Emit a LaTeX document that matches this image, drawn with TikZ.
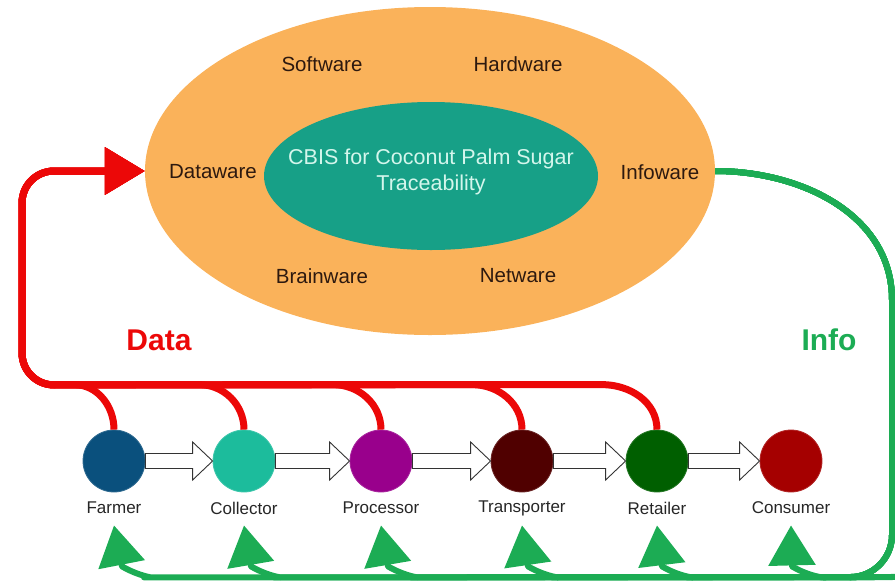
\documentclass[tikz,border=0pt]{standalone}
\usepackage{fontspec}
\setmainfont{Liberation Sans}
\usetikzlibrary{arrows.meta,calc,shapes.geometric}
\definecolor{outerfill}{RGB}{250,178,90}
\definecolor{innerfill}{RGB}{23,160,135}
\definecolor{innertext}{RGB}{212,246,236}
\definecolor{wtext}{RGB}{45,25,15}
\definecolor{datared}{RGB}{236,8,8}
\definecolor{infogreen}{RGB}{28,172,84}
\definecolor{cfarmer}{RGB}{10,80,125}
\definecolor{ccollector}{RGB}{28,188,156}
\definecolor{cprocessor}{RGB}{153,0,140}
\definecolor{ctransporter}{RGB}{80,0,0}
\definecolor{cretailer}{RGB}{0,95,0}
\definecolor{cconsumer}{RGB}{165,0,0}
\newcommand\mkblockarrow[2]{%
  \draw[blockar] let \p1=(#1.east), \p2=(#2.west) in
    (\x1,\y1+7.5pt) -- (\x2-20pt,\y1+7.5pt) -- (\x2-20pt,\y1+19pt) -- (\x2,\y1)
    -- (\x2-20pt,\y1-19pt) -- (\x2-20pt,\y1-7.5pt) -- (\x1,\y1-7.5pt) -- cycle;}
\begin{document}
\begin{tikzpicture}[x=1pt,y=1pt,
  ware/.style={text=wtext,font=\fontsize{20.5}{24}\selectfont},
  actor/.style={circle,minimum size=62pt,inner sep=0pt,draw=#1!85!white,line width=0.8pt,fill=#1},
  actorlabel/.style={text=black!85,font=\fontsize{17}{20}\selectfont},
  dataline/.style={draw=datared,line width=7pt,line join=round},
  infoline/.style={draw=infogreen,line width=6pt,line join=round},
  blockar/.style={draw=black!80,fill=white,line width=0.9pt,line join=miter},
  bigword/.style={font=\fontsize{30}{34}\selectfont\bfseries}
]
\useasboundingbox (0,0) rectangle (895,-582);
% ellipses
\node[ellipse,fill=outerfill,minimum width=570pt,minimum height=328pt,inner sep=0pt] (outer) at (430,-171) {};
\node[ellipse,fill=innerfill,minimum width=334pt,minimum height=148pt,inner sep=0pt] (inner) at (431,-176) {};
\node[text=innertext,font=\fontsize{21.5}{26}\selectfont,align=center] (cbis) at (431,-172) {CBIS for Coconut Palm Sugar\\Traceability};
\node[ware] (sw) at (322,-64) {Software};
\node[ware] (hw) at (518,-64) {Hardware};
\node[ware] (dw) at (213,-172) {Dataware};
\node[ware] (iw) at (660,-172) {Infoware};
\node[ware] (bw) at (322,-276) {Brainware};
\node[ware] (nw) at (518,-276) {Netware};
% words
\node[bigword,text=datared] (data) at (159,-340) {Data};
\node[bigword,text=infogreen] (info) at (829,-340) {Info};
% actors
\node[actor=cfarmer] (f) at (114,-461) {};
\node[actor=ccollector] (c) at (244,-461) {};
\node[actor=cprocessor] (p) at (381,-461) {};
\node[actor=ctransporter] (t) at (522,-461) {};
\node[actor=cretailer] (r) at (657,-461) {};
\node[actor=cconsumer] (k) at (791,-461) {};
\node[actorlabel] (fl) at (114,-508) {Farmer};
\node[actorlabel] (cl) at (244,-508) {Collector};
\node[actorlabel] (pl) at (381,-508) {Processor};
\node[actorlabel] (tl) at (522,-508) {Transporter};
\node[actorlabel] (rl) at (657,-508) {Retailer};
\node[actorlabel] (kl) at (791,-508) {Consumer};
% block arrows
\mkblockarrow{f}{c}
\mkblockarrow{c}{p}
\mkblockarrow{p}{t}
\mkblockarrow{t}{r}
\mkblockarrow{r}{k}
% data lines
\foreach \n/\dx in {r/55,t/50,p/48,c/45,f/40}{
  \draw[dataline,-{Triangle[length=40pt,width=46pt]}]
    (\n.north) to[out=90,in=0] ($(\n.north)+(-\dx,45)$)
    [rounded corners=32pt] -- (22,-385) |- (outer.west);
}
% info lines
\foreach \n/\bx in {f/8,c/7,p/7,t/6,r/5,k/1}{
  \draw[infoline,-{Triangle[length=40pt,width=46pt]}]
    (outer.east) to[out=0,in=90] (892,-300)
    [rounded corners=42pt] -- (892,-577) -- ($(\n.south)+(72,-85)$)
    [sharp corners] to[out=180,in=-30] ($(\n.south)+(\bx,-74)$)
    -- ($(\n.south)+(0,-33)$);
}
\end{tikzpicture}
\end{document}
